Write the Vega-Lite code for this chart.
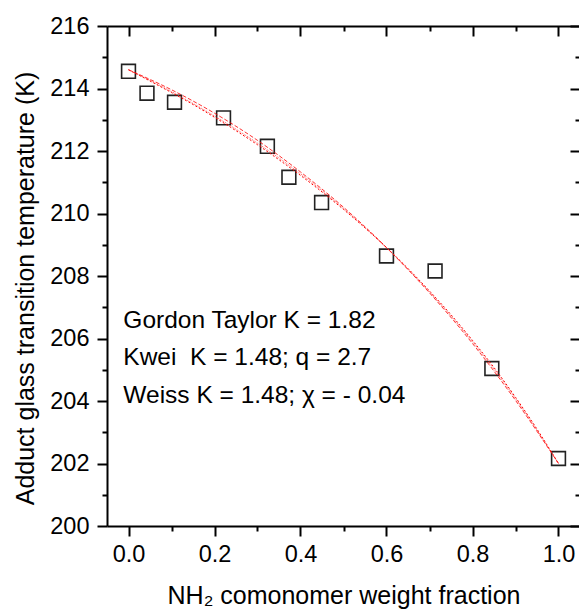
{
  "$schema": "https://vega.github.io/schema/vega-lite/v6.json",
  "width": 473,
  "height": 500,
  "autosize": "none",
  "padding": {"left": 107, "top": 26, "right": 0, "bottom": 84},
  "background": "white",
  "config": {
    "view": {"stroke": null},
    "font": "Liberation Sans",
    "axis": {"grid": false, "domainColor": "black", "tickColor": "black", "labelColor": "black", "titleColor": "black", "labelFont": "Liberation Sans", "titleFont": "Liberation Sans", "labelFontSize": 23.5, "titleFontSize": 25, "titleFontWeight": "normal", "domainWidth": 2, "tickWidth": 2}
  },
  "datasets": {
    "points": [
      {"w": 0.0, "tg": 214.55},
      {"w": 0.043, "tg": 213.85},
      {"w": 0.107, "tg": 213.56},
      {"w": 0.221, "tg": 213.06},
      {"w": 0.323, "tg": 212.15},
      {"w": 0.373, "tg": 211.16},
      {"w": 0.449, "tg": 210.35},
      {"w": 0.6, "tg": 208.64},
      {"w": 0.713, "tg": 208.16},
      {"w": 0.845, "tg": 205.04},
      {"w": 1.0, "tg": 202.16}
    ],
    "curves": [
      {"model": "GT", "w": 0.0, "tg": 214.6},
      {"model": "GT", "w": 0.05, "tg": 214.24},
      {"model": "GT", "w": 0.1, "tg": 213.87},
      {"model": "GT", "w": 0.15, "tg": 213.49},
      {"model": "GT", "w": 0.2, "tg": 213.08},
      {"model": "GT", "w": 0.25, "tg": 212.65},
      {"model": "GT", "w": 0.3, "tg": 212.2},
      {"model": "GT", "w": 0.35, "tg": 211.72},
      {"model": "GT", "w": 0.4, "tg": 211.22},
      {"model": "GT", "w": 0.45, "tg": 210.69},
      {"model": "GT", "w": 0.5, "tg": 210.13},
      {"model": "GT", "w": 0.55, "tg": 209.54},
      {"model": "GT", "w": 0.6, "tg": 208.91},
      {"model": "GT", "w": 0.65, "tg": 208.24},
      {"model": "GT", "w": 0.7, "tg": 207.52},
      {"model": "GT", "w": 0.75, "tg": 206.76},
      {"model": "GT", "w": 0.8, "tg": 205.94},
      {"model": "GT", "w": 0.85, "tg": 205.07},
      {"model": "GT", "w": 0.9, "tg": 204.12},
      {"model": "GT", "w": 0.95, "tg": 203.1},
      {"model": "GT", "w": 1.0, "tg": 202.0},
      {"model": "Kwei", "w": 0.0, "tg": 214.6},
      {"model": "Kwei", "w": 0.1, "tg": 213.96},
      {"model": "Kwei", "w": 0.2, "tg": 213.21},
      {"model": "Kwei", "w": 0.3, "tg": 212.34},
      {"model": "Kwei", "w": 0.4, "tg": 211.33},
      {"model": "Kwei", "w": 0.5, "tg": 210.2},
      {"model": "Kwei", "w": 0.6, "tg": 208.91},
      {"model": "Kwei", "w": 0.7, "tg": 207.46},
      {"model": "Kwei", "w": 0.8, "tg": 205.84},
      {"model": "Kwei", "w": 0.9, "tg": 204.02},
      {"model": "Kwei", "w": 1.0, "tg": 202.0},
      {"model": "Weiss", "w": 0.0, "tg": 214.6},
      {"model": "Weiss", "w": 0.1, "tg": 213.9},
      {"model": "Weiss", "w": 0.2, "tg": 213.12},
      {"model": "Weiss", "w": 0.3, "tg": 212.25},
      {"model": "Weiss", "w": 0.4, "tg": 211.27},
      {"model": "Weiss", "w": 0.5, "tg": 210.16},
      {"model": "Weiss", "w": 0.6, "tg": 208.9},
      {"model": "Weiss", "w": 0.7, "tg": 207.49},
      {"model": "Weiss", "w": 0.8, "tg": 205.9},
      {"model": "Weiss", "w": 0.9, "tg": 204.08},
      {"model": "Weiss", "w": 1.0, "tg": 202.0}
    ],
    "labels": [
      {"w": -0.012, "tg": 206.35, "label": "Gordon Taylor K = 1.82"},
      {"w": -0.012, "tg": 205.15, "label": "Kwei\u00a0 K = 1.48; q = 2.7"},
      {"w": -0.012, "tg": 203.93, "label": "Weiss K = 1.48; χ = - 0.04"}
    ]
  },
  "resolve": {"axis": {"x": "independent", "y": "independent"}},
  "layer": [
    {
      "data": {"name": "points"},
      "mark": {"type": "point", "shape": "square", "filled": false, "size": 190, "stroke": "#222222", "strokeWidth": 1.6, "opacity": 1},
      "encoding": {
        "x": {"field": "w", "type": "quantitative", "scale": {"domain": [-0.05, 1.05], "nice": false, "zero": false},
          "axis": {"orient": "bottom", "values": [0, 0.2, 0.4, 0.6, 0.8, 1.0], "format": ".1f", "tickSize": 10, "labelPadding": 6, "title": "NH₂ comonomer weight fraction", "titlePadding": 18, "labelFlush": false}},
        "y": {"field": "tg", "type": "quantitative", "scale": {"domain": [200, 216], "nice": false, "zero": false},
          "axis": {"orient": "left", "values": [200, 202, 204, 206, 208, 210, 212, 214, 216], "format": "d", "tickSize": 10, "labelPadding": 8, "title": "Adduct glass transition temperature (K)", "titlePadding": 11, "titleY": 262, "labelFlush": false}}
      }
    },
    {
      "data": {"name": "curves"},
      "transform": [{"filter": "datum.model === 'GT'"}],
      "mark": {"type": "line", "color": "#ff0000", "strokeWidth": 1, "strokeDash": [2, 2], "interpolate": "monotone"},
      "encoding": {
        "x": {"field": "w", "type": "quantitative", "axis": {"orient": "bottom", "values": [0.1, 0.3, 0.5, 0.7, 0.9], "labels": false, "domain": false, "tickSize": 5, "title": null}},
        "y": {"field": "tg", "type": "quantitative", "axis": {"orient": "left", "values": [201, 203, 205, 207, 209, 211, 213, 215], "labels": false, "domain": false, "tickSize": 5, "title": null}}
      }
    },
    {
      "data": {"name": "curves"},
      "transform": [{"filter": "datum.model === 'Kwei'"}],
      "mark": {"type": "line", "color": "#ff0000", "strokeWidth": 1, "strokeDash": [4, 2], "opacity": 0.8, "interpolate": "monotone"},
      "encoding": {
        "x": {"field": "w", "type": "quantitative", "axis": {"orient": "top", "values": [0, 0.2, 0.4, 0.6, 0.8, 1.0], "labels": false, "tickSize": -10, "title": null}},
        "y": {"field": "tg", "type": "quantitative", "axis": {"orient": "right", "values": [200, 202, 204, 206, 208, 210, 212, 214, 216], "labels": false, "tickSize": -10, "title": null}}
      }
    },
    {
      "data": {"name": "curves"},
      "transform": [{"filter": "datum.model === 'Weiss'"}],
      "mark": {"type": "line", "color": "#ff3333", "strokeWidth": 1, "strokeDash": [1, 1], "opacity": 0.8, "interpolate": "monotone"},
      "encoding": {
        "x": {"field": "w", "type": "quantitative", "axis": {"orient": "top", "values": [0.1, 0.3, 0.5, 0.7, 0.9], "labels": false, "domain": false, "tickSize": -5, "title": null}},
        "y": {"field": "tg", "type": "quantitative", "axis": {"orient": "right", "values": [201, 203, 205, 207, 209, 211, 213, 215], "labels": false, "domain": false, "tickSize": -5, "title": null}}
      }
    },
    {
      "data": {"name": "labels"},
      "mark": {"type": "text", "align": "left", "baseline": "alphabetic", "fontSize": 24.5, "font": "Liberation Sans", "color": "black"},
      "encoding": {
        "x": {"field": "w", "type": "quantitative", "axis": null},
        "y": {"field": "tg", "type": "quantitative", "axis": null},
        "text": {"field": "label"}
      }
    }
  ]
}
